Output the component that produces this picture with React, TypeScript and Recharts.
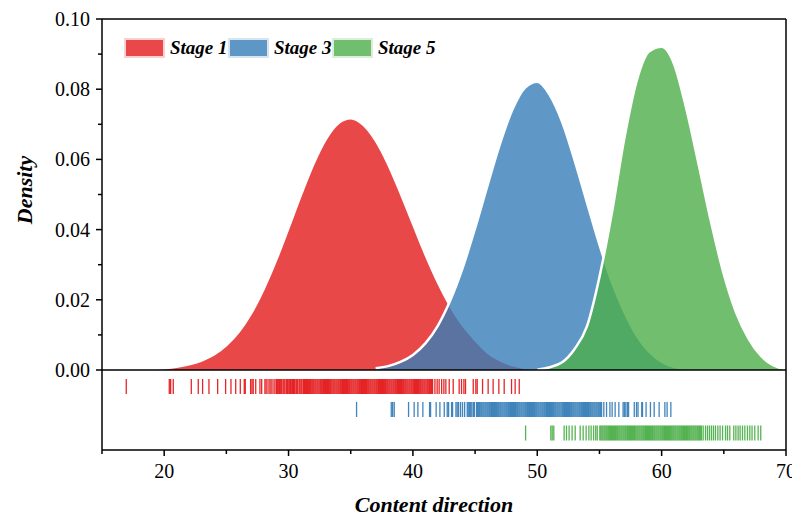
import { ComposedChart, Area, Scatter, XAxis, YAxis, ReferenceLine, Legend } from 'recharts';

// density curves, on a 1-unit grid
const gridX = [19, 20, 21, 22, 23, 24, 25, 26, 27, 28, 29, 30, 31, 32, 33, 34, 35, 36, 37, 38, 39, 40, 41, 42, 43, 44,
  45, 46, 47, 48, 49, 50, 51, 52, 53, 54, 55, 56, 57, 58, 59, 60, 61, 62, 63, 64, 65, 66, 67, 68, 69, 70];

const stage1From = 19;
const stage1Density = [0.0003, 0.0005, 0.0009, 0.0016, 0.0027, 0.0044, 0.0071, 0.0109, 0.0162, 0.0231, 0.0313,
  0.0405, 0.0499, 0.0587, 0.0658, 0.0703, 0.0717, 0.0699, 0.0654, 0.0587, 0.0505, 0.0417, 0.033, 0.0251, 0.0183,
  0.0128, 0.0086, 0.005, 0.0028, 0.0014, 0.0006, 0.0002];

const stage3From = 37;
const stage3Density = [0.0005, 0.0011, 0.0023, 0.0043, 0.0076, 0.0126, 0.0198, 0.0291, 0.0404, 0.0526, 0.0644,
  0.0742, 0.0804, 0.0821, 0.0784, 0.0707, 0.0598, 0.0477, 0.0357, 0.0251, 0.0166, 0.0098, 0.0052, 0.0024, 0.0009,
  0.0003];

const stage5From = 50;
const stage5Density = [0.0001, 0.0008, 0.0022, 0.006, 0.0125, 0.0265, 0.0448, 0.066, 0.0825, 0.0908, 0.0921,
  0.0872, 0.0742, 0.0582, 0.0418, 0.0273, 0.0163, 0.0089, 0.004, 0.0013, 0.0002];

// rug (individual observations)
const stage1Rug = [16.95, 20.41, 20.52, 20.73, 22.18, 22.74, 23.09, 23.6, 24.3, 24.94, 25.37, 25.75, 26.12, 26.44,
  26.52, 26.95, 27.06, 27.16, 27.36, 27.7, 27.84, 28.1, 28.2, 28.35, 28.5, 28.6, 28.75, 28.9,
  29.02, 29.1, 29.21, 29.28, 29.37, 29.45, 29.56, 29.63, 29.71, 29.82, 29.9, 29.97,
  30.06, 30.15, 30.22, 30.33, 30.4, 30.48, 30.59, 30.66, 30.74, 30.85, 30.92,
  31.01, 31.08, 31.19, 31.27, 31.35, 31.44, 31.52, 31.61, 31.7, 31.78, 31.87, 31.95,
  32.03, 32.12, 32.2, 32.29, 32.37, 32.46, 32.55, 32.63, 32.71, 32.8, 32.88, 32.97,
  33.05, 33.14, 33.22, 33.31, 33.39, 33.48, 33.57, 33.65, 33.73, 33.82, 33.9, 33.99,
  34.07, 34.16, 34.24, 34.33, 34.41, 34.5, 34.58, 34.67, 34.75, 34.84, 34.92,
  35.01, 35.09, 35.18, 35.26, 35.35, 35.43, 35.52, 35.6, 35.69, 35.77, 35.86, 35.94,
  36.03, 36.11, 36.2, 36.28, 36.37, 36.45, 36.54, 36.62, 36.71, 36.79, 36.88, 36.96,
  37.05, 37.13, 37.22, 37.3, 37.39, 37.47, 37.56, 37.64, 37.73, 37.81, 37.9, 37.98,
  38.07, 38.15, 38.24, 38.32, 38.41, 38.49, 38.58, 38.66, 38.75, 38.83, 38.92,
  39.01, 39.09, 39.18, 39.26, 39.35, 39.43, 39.52, 39.6, 39.69, 39.77, 39.86, 39.94,
  40.03, 40.12, 40.2, 40.29, 40.37, 40.46, 40.55, 40.63, 40.72, 40.8, 40.89, 40.97,
  41.06, 41.15, 41.23, 41.32, 41.4, 41.5, 41.58,
  41.77, 41.95, 42.11, 42.31, 42.49, 42.65, 42.92, 43.24, 43.72, 43.91, 44.1, 44.23, 44.85, 45.06, 45.17, 45.6,
  46.05, 46.45, 46.91, 47.34, 47.93, 48.22, 48.55];

const stage3Rug = [35.47, 38.26, 38.37, 38.5, 39.65, 40.1, 40.4, 40.8, 41.34, 41.42, 41.87, 42.17, 42.52, 42.76,
  42.87, 43.11, 43.19, 43.46, 43.56, 43.67, 43.83, 43.99, 44.16, 44.37, 44.45, 44.56, 44.65, 44.74, 44.86, 44.95,
  45.12, 45.2, 45.29, 45.37, 45.46, 45.54, 45.63, 45.71, 45.8, 45.88, 45.97,
  46.05, 46.14, 46.22, 46.31, 46.39, 46.48, 46.56, 46.65, 46.73, 46.82, 46.9, 46.99,
  47.07, 47.16, 47.24, 47.33, 47.41, 47.5, 47.58, 47.67, 47.75, 47.84, 47.92,
  48.01, 48.09, 48.18, 48.26, 48.35, 48.43, 48.52, 48.6, 48.69, 48.77, 48.86, 48.94,
  49.03, 49.11, 49.2, 49.28, 49.37, 49.45, 49.54, 49.62, 49.71, 49.79, 49.88, 49.96,
  50.05, 50.13, 50.22, 50.3, 50.39, 50.47, 50.56, 50.64, 50.73, 50.81, 50.9, 50.98,
  51.07, 51.15, 51.24, 51.32, 51.41, 51.49, 51.58, 51.66, 51.75, 51.83, 51.92,
  52.01, 52.09, 52.18, 52.26, 52.35, 52.43, 52.52, 52.6, 52.69, 52.77, 52.86, 52.94,
  53.03, 53.11, 53.2, 53.28, 53.37, 53.45, 53.54, 53.62, 53.71, 53.79, 53.88, 53.96,
  54.05, 54.13, 54.22, 54.3, 54.39, 54.47, 54.56, 54.64, 54.73, 54.81, 54.9, 54.98,
  55.07, 55.17, 55.35, 55.57, 55.84, 56.02, 56.26, 56.56, 56.9, 57.0, 57.12, 57.25, 57.34, 57.8, 57.98, 58.1,
  58.4, 58.46, 58.75, 59.1, 59.4, 59.8, 60.26, 60.44, 60.74];

const stage5Rug = [49.06, 51.09, 51.2, 51.33, 52.16, 52.35, 52.56, 52.8, 53.05, 53.45, 53.69, 53.93, 54.15, 54.33,
  54.53, 54.7, 54.82,
  55.03, 55.11, 55.2, 55.28, 55.37, 55.45, 55.54, 55.62, 55.71, 55.79, 55.88, 55.96,
  56.05, 56.13, 56.22, 56.3, 56.39, 56.47, 56.56, 56.64, 56.73, 56.81, 56.9, 56.98,
  57.07, 57.15, 57.24, 57.32, 57.41, 57.49, 57.58, 57.66, 57.75, 57.83, 57.92,
  58.01, 58.09, 58.18, 58.26, 58.35, 58.43, 58.52, 58.6, 58.69, 58.77, 58.86, 58.94,
  59.03, 59.11, 59.2, 59.28, 59.37, 59.45, 59.54, 59.62, 59.71, 59.79, 59.88, 59.96,
  60.05, 60.13, 60.22, 60.3, 60.39, 60.47, 60.56, 60.64, 60.73, 60.81, 60.9, 60.98,
  61.07, 61.15, 61.24, 61.32, 61.41, 61.49, 61.58, 61.66, 61.75, 61.83, 61.92,
  62.01, 62.09, 62.18, 62.26, 62.35, 62.43, 62.52, 62.6, 62.69, 62.77, 62.86, 62.94,
  63.03, 63.11, 63.2, 63.34, 63.53, 63.69, 63.85, 64.01, 64.17, 64.33, 64.52, 64.7, 64.9, 65.14, 65.3, 65.48,
  65.8, 65.97, 66.15, 66.31, 66.5, 66.69, 66.9, 67.09, 67.27, 67.49, 67.76, 67.97];

const xTicks = [15, 20, 25, 30, 35, 40, 45, 50, 55, 60, 65, 70];
const yTicks = [0, 0.01, 0.02, 0.03, 0.04, 0.05, 0.06, 0.07, 0.08, 0.09, 0.1];

const stages = [
  { key: 'stage1', name: 'Stage 1', color: '#E41A1C', rugY: -0.0047 },
  { key: 'stage3', name: 'Stage 3', color: '#377EB8', rugY: -0.01125 },
  { key: 'stage5', name: 'Stage 5', color: '#4DAF4A', rugY: -0.01795 },
];

const pick = (arr: number[], from: number, x: number) => {
  const v = arr[x - from];
  return v === undefined ? null : v;
};

const densityRows = gridX.map((x) => ({
  x,
  stage1: pick(stage1Density, stage1From, x),
  stage3: pick(stage3Density, stage3From, x),
  stage5: pick(stage5Density, stage5From, x),
}));

const rugData = [
  stage1Rug.map((x) => ({ x, y: stages[0].rugY })),
  stage3Rug.map((x) => ({ x, y: stages[1].rugY })),
  stage5Rug.map((x) => ({ x, y: stages[2].rugY })),
];

const FONT = '"Liberation Serif", "Times New Roman", serif';
const AXIS_X = 102;
const AXIS_Y = 450;

const YTick = (props: any) => {
  const { y, payload } = props;
  const v = payload.value;
  const major = Math.round(v * 100) % 2 === 0;
  return (
    <g>
      <line x1={AXIS_X - (major ? 6 : 4)} x2={AXIS_X} y1={y} y2={y} stroke="#000" strokeWidth={1.5} />
      {major && (
        <text x={AXIS_X - 12} y={y} dy="0.35em" textAnchor="end" fontFamily={FONT} fontSize={20} fill="#000">
          {v.toFixed(2)}
        </text>
      )}
    </g>
  );
};

const XTick = (props: any) => {
  const { x, payload } = props;
  const v = payload.value;
  const major = v % 10 === 0;
  return (
    <g>
      <line x1={x} x2={x} y1={AXIS_Y} y2={AXIS_Y + (major ? 6 : 4)} stroke="#000" strokeWidth={1.5} />
      {major && (
        <text x={x} y={AXIS_Y + 28} textAnchor="middle" fontFamily={FONT} fontSize={20} fill="#000">
          {v}
        </text>
      )}
    </g>
  );
};

const renderLegend = () => (
  <div style={{ display: 'flex', fontFamily: FONT, fontWeight: 'bold', fontStyle: 'italic', fontSize: 19 }}>
    {stages.map((s) => (
      <div key={s.key} style={{ display: 'flex', alignItems: 'center', width: 104 }}>
        <div
          style={{
            width: 37,
            height: 16,
            background: s.color,
            opacity: 0.8,
            border: `2px solid ${s.color}40`,
            backgroundClip: 'padding-box',
            marginRight: 5,
          }}
        />
        <span style={{ color: '#000' }}>{s.name}</span>
      </div>
    ))}
  </div>
);

export default function App() {
  return (
    <div style={{ position: 'absolute', left: 0, top: 0, background: '#fff' }}>
      <ComposedChart
        width={792}
        height={516}
        data={densityRows}
        margin={{ top: 19, right: 6, bottom: 36, left: 42 }}
      >
        <XAxis
          dataKey="x"
          type="number"
          domain={[15, 70]}
          allowDataOverflow
          ticks={xTicks}
          interval={0}
          tickSize={0}
          tickMargin={0}
          height={30}
          axisLine={{ stroke: '#000', strokeWidth: 1.5 }}
          tickLine={false}
          tick={<XTick />}
          label={{
            content: () => (
              <text x={434} y={512} textAnchor="middle" fontFamily={FONT} fontSize={22} fontWeight="bold"
                fontStyle="italic" fill="#000">
                Content direction
              </text>
            ),
          }}
        />
        <YAxis
          type="number"
          domain={[-0.02279, 0.1]}
          allowDataOverflow
          ticks={yTicks}
          interval={0}
          tickSize={0}
          tickMargin={0}
          width={60}
          axisLine={{ stroke: '#000', strokeWidth: 1.5 }}
          tickLine={false}
          tick={<YTick />}
          label={{
            content: () => (
              <text x={32} y={190} transform="rotate(-90 32 190)" textAnchor="middle" fontFamily={FONT}
                fontSize={22} fontWeight="bold" fontStyle="italic" fill="#000">
                Density
              </text>
            ),
          }}
        />
        {stages.map((s) => (
          <Area
            key={s.key}
            dataKey={s.key}
            name={s.name}
            type="monotone"
            baseValue={0}
            fill={s.color}
            fillOpacity={0.8}
            stroke="#fff"
            strokeWidth={2.5}
            dot={false}
            activeDot={false}
            isAnimationActive={false}
          />
        ))}
        {stages.map((s, i) => (
          <Scatter
            key={`rug-${s.key}`}
            data={rugData[i]}
            dataKey="y"
            legendType="none"
            isAnimationActive={false}
            shape={(p: any) => (
              <line x1={p.cx} x2={p.cx} y1={p.cy - 7.5} y2={p.cy + 7.5} stroke={s.color} strokeWidth={1.3}
                strokeOpacity={0.95} />
            )}
          />
        ))}
        <ReferenceLine y={0} stroke="#000" strokeWidth={1.5} />
        <ReferenceLine y={0.1} stroke="#000" strokeWidth={1.5} />
        <ReferenceLine x={70} stroke="#000" strokeWidth={1.5} />
        <Legend
          layout="horizontal"
          verticalAlign="middle"
          align="center"
          content={renderLegend}
          wrapperStyle={{ top: 37, left: 124, width: 'auto', height: 'auto' }}
        />
      </ComposedChart>
    </div>
  );
}
